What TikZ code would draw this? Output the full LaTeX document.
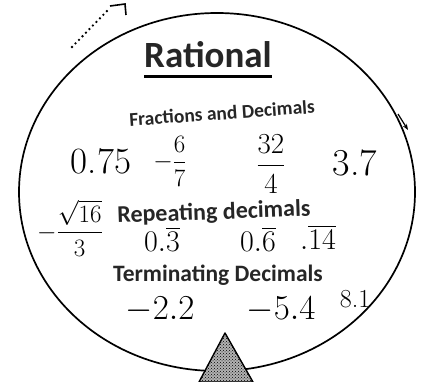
\RequirePackage{fix-cm}
\documentclass[tikz,border=0pt]{standalone}
\usepackage{amsmath}
\usepackage{fontspec}
\newfontfamily\calfont{Carlito}
\usetikzlibrary{arrows.meta}
\usetikzlibrary{patterns}
\usetikzlibrary{calc}

\tikzset{
  head/.style={font=\calfont\bfseries\fontsize{#1}{#1}\selectfont, inner sep=0pt, text=black!85},
  hand/.style={font=\fontsize{#1}{#1}\selectfont, inner sep=0pt},
}

\begin{document}
\begin{tikzpicture}[x=1pt,y=-1pt]
\useasboundingbox (0,0) rectangle (426,382);

% Outer set and marks around it
\draw[line width=1.7pt] (217,192) ellipse [x radius=198, y radius=179];
\draw[line width=2.6pt, line cap=round, dash pattern=on 0pt off 5pt] (72,47) -- (108,10);
\coordinate (tk1) at (110,6);
\coordinate (tk2) at (125,4);
\coordinate (tk3) at (126,15);
\draw[line width=1.6pt] (tk1) -- (tk2) -- (tk3);
\coordinate (sa) at (398,114);
\coordinate (sb) at (408,130);
\draw[line width=1.2pt, -{Stealth[length=6pt]}] (sa) -- (sb);

% Title
\node[head=37, anchor=base] (rat) at (208,68) {Rational};
\draw[line width=2.6pt] ($(rat.south west)+(0,8)$) -- ($(rat.south east)+(0,8)$);

% Fractions and decimals
\node[head=19.5, rotate=4] (frac) at (222,113) {Fractions and Decimals};
\node[hand=37] (n075) at (101,161) {0.75};
\node[hand=25] (n67) at (170,161) {$-\dfrac{6}{7}$};
\node[hand=29] (n324) at (271,164) {$\dfrac{32}{4}$};
\node[hand=38] (n37) at (355,163) {3.7};

% Repeating decimals
\node[hand=25] (n16) at (70,228) {$-\dfrac{\sqrt{16}}{3}$};
\node[head=24, rotate=2] (rep) at (214,213) {Repeating decimals};
\node[hand=30] (n03) at (162,239) {$0.\overline{3}$};
\node[hand=30] (n06) at (258,239) {$0.\overline{6}$};
\node[hand=30] (n14) at (318,237) {$.\overline{14}$};

% Terminating decimals
\node[head=23.5] (term) at (218,275) {Terminating Decimals};
\node[hand=35] (n22) at (160,310) {$-2.2$};
\node[hand=35] (n54) at (281,310) {$-5.4$};
\node[hand=26] (n81) at (355,299) {8.1};

% Arrow pointing up into the set
\coordinate (tip) at (225,333);
\coordinate (bl) at (199,382);
\coordinate (br) at (253,382);
\fill[gray!60] (tip) -- (br) -- (bl) -- cycle;
\fill[pattern=crosshatch dots, pattern color=black] (tip) -- (br) -- (bl) -- cycle;
\draw[line width=1.4pt, line join=round] (tip) -- (br) -- (bl) -- cycle;
\end{tikzpicture}
\end{document}
